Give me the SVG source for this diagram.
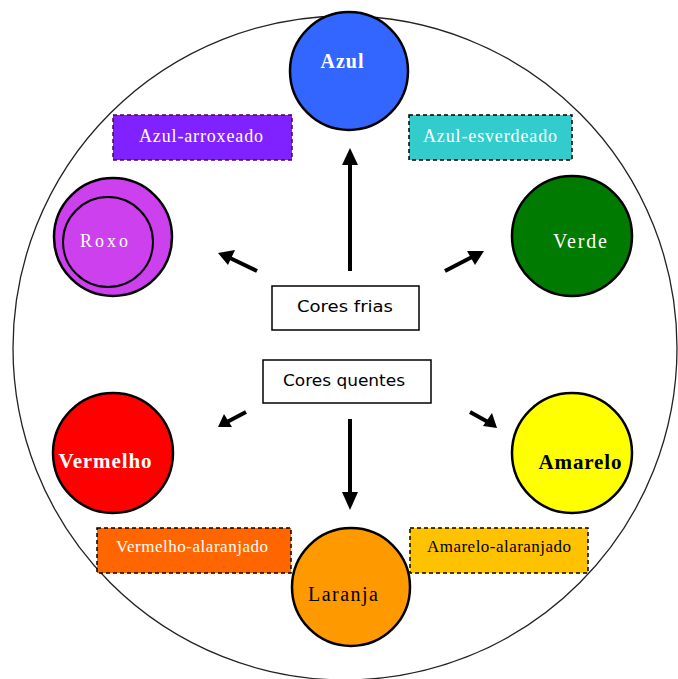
<svg xmlns="http://www.w3.org/2000/svg" width="678" height="679" viewBox="0 0 678 679">
<style>
.serif{font-family:"Liberation Serif","Times New Roman",serif;}
.sans{font-family:"DejaVu Sans","Liberation Sans",sans-serif;}
.node{stroke:#000;stroke-width:2.5;}
.band{stroke-width:1.5;stroke-dasharray:4 3;}
.conn{stroke:#000;stroke-width:4;fill:none;}
.head{fill:#000;}
</style>
<rect width="678" height="679" fill="#fff"/>
<circle id="wheel" cx="345" cy="348" r="332" fill="none" stroke="#222" stroke-width="1.3"/>

<g id="azul">
<circle class="node" cx="349" cy="71" r="59" fill="#3366ff"/>
<text class="serif" x="342" y="68" text-anchor="middle" font-size="20" font-weight="bold" fill="#fff" textLength="43" lengthAdjust="spacing">Azul</text>
</g>
<g id="azul-arroxeado">
<rect class="band" x="113" y="115" width="179" height="45" fill="#7f22ff" stroke="#550055"/>
<text class="serif" x="201" y="142" text-anchor="middle" font-size="18" fill="#fff" textLength="124" lengthAdjust="spacing">Azul-arroxeado</text>
</g>
<g id="azul-esverdeado">
<rect class="band" x="409" y="115" width="163" height="45" fill="#33cccc" stroke="#000"/>
<text class="serif" x="490" y="142" text-anchor="middle" font-size="18" fill="#fff" textLength="134" lengthAdjust="spacing">Azul-esverdeado</text>
</g>
<g id="roxo">
<circle class="node" cx="113" cy="237" r="59" fill="#cc40ee" stroke-width="2"/>
<circle cx="108" cy="242" r="45" fill="none" stroke="#000" stroke-width="2"/>
<text class="serif" x="104" y="247" text-anchor="middle" font-size="18" fill="#fff" textLength="48" lengthAdjust="spacing">Roxo</text>
</g>
<g id="verde">
<circle class="node" cx="572" cy="236" r="60" fill="#007a00" stroke-width="2"/>
<text class="serif" x="580" y="248" text-anchor="middle" font-size="20" fill="#fff" textLength="54" lengthAdjust="spacing">Verde</text>
</g>
<g id="cores-frias">
<rect x="272" y="286" width="147" height="44" fill="#fff" stroke="#000" stroke-width="1.5"/>
<text class="sans" x="345" y="312" text-anchor="middle" font-size="16" fill="#000" textLength="96" lengthAdjust="spacingAndGlyphs">Cores frias</text>
</g>
<g id="cores-quentes">
<rect x="263" y="360" width="168" height="43" fill="#fff" stroke="#000" stroke-width="1.5"/>
<text class="sans" x="344" y="386" text-anchor="middle" font-size="16" fill="#000" textLength="122" lengthAdjust="spacingAndGlyphs">Cores quentes</text>
</g>
<g id="vermelho">
<circle class="node" cx="113" cy="453" r="60" fill="#ff0000"/>
<text class="serif" x="105" y="468" text-anchor="middle" font-size="21" font-weight="bold" fill="#fff" textLength="93" lengthAdjust="spacing">Vermelho</text>
</g>
<g id="amarelo">
<circle class="node" cx="572" cy="453" r="60" fill="#ffff00"/>
<text class="serif" x="580" y="469" text-anchor="middle" font-size="21" font-weight="bold" fill="#000" textLength="83" lengthAdjust="spacing">Amarelo</text>
</g>
<g id="vermelho-alaranjado">
<rect class="band" x="97" y="528" width="194" height="45" fill="#ff6600" stroke="#000"/>
<text class="serif" x="192" y="552" text-anchor="middle" font-size="17" fill="#fff" textLength="152" lengthAdjust="spacing">Vermelho-alaranjado</text>
</g>
<g id="amarelo-alaranjado">
<rect class="band" x="410" y="528" width="178" height="45" fill="#ffc200" stroke="#000"/>
<text class="serif" x="499" y="552" text-anchor="middle" font-size="17" fill="#000" textLength="144" lengthAdjust="spacing">Amarelo-alaranjado</text>
</g>
<g id="laranja">
<circle class="node" cx="351" cy="587" r="59" fill="#ff9900" stroke-width="2"/>
<text class="serif" x="343" y="601" text-anchor="middle" font-size="20" fill="#000" textLength="70" lengthAdjust="spacing">Laranja</text>
</g>

<g id="connectors">
<line class="conn" x1="350" y1="271" x2="350" y2="162"/>
<polygon class="head" points="350,148 342,165 358,165"/>
<line class="conn" x1="350" y1="419" x2="350" y2="494"/>
<polygon class="head" points="350,510 342,492 358,492"/>
<line class="conn" x1="257" y1="271" x2="230" y2="258"/>
<polygon class="head" points="218,253 235,250 228,265"/>
<line class="conn" x1="445" y1="271" x2="472" y2="257"/>
<polygon class="head" points="484,251 475,265 467,251"/>
<line class="conn" x1="246" y1="412" x2="227" y2="422"/>
<polygon class="head" points="218,427 224,414 232,427"/>
<line class="conn" x1="470" y1="412" x2="488" y2="422"/>
<polygon class="head" points="497,428 483,426 492,413"/>
</g>
</svg>
